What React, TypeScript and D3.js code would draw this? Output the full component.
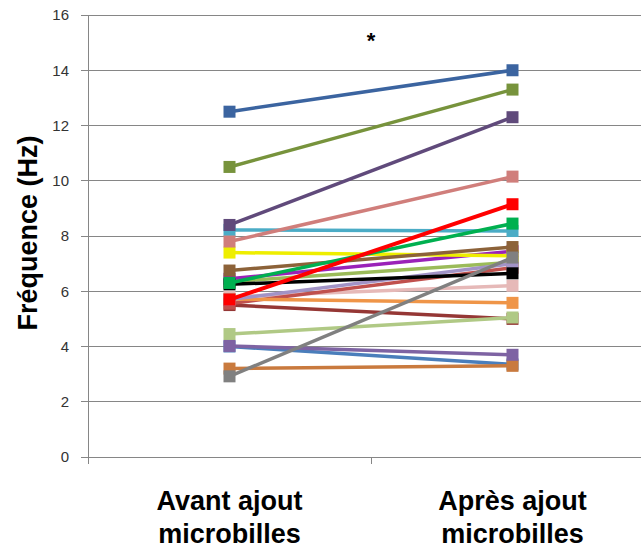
import React from "react";
import * as d3 from "d3";

const categories = ["Avant ajout microbilles", "Après ajout microbilles"];
const categoryLines = [
  ["Avant ajout", "microbilles"],
  ["Après ajout", "microbilles"],
];
const yTicks = [0, 2, 4, 6, 8, 10, 12, 14, 16];

// series drawn bottom to top
const seriesIds = [
  "s01", "s02", "s03", "s04", "s05", "s06", "s07", "s08", "s09", "s10", "s11",
  "s12", "s13", "s14", "s15", "s16", "s17", "s18", "s19", "s20", "s21", "s22",
];
const beforeValues = [
  4.0, 3.2, 5.5, 8.22, 5.8, 6.35, 5.55, 5.72, 5.7, 6.45, 7.4,
  6.25, 6.75, 4.45, 4.02, 2.92, 12.5, 10.5, 8.4, 7.8, 6.3, 5.7,
];
const afterValues = [
  3.35, 3.3, 5.0, 8.18, 6.2, 7.05, 6.85, 5.58, 7.0, 7.45, 7.28,
  6.65, 7.6, 5.05, 3.7, 7.22, 14.0, 13.3, 12.3, 10.15, 8.45, 9.15,
];
const seriesColors = [
  "#4A7EBB", "#C97A3E", "#953735", "#4BACC6", "#E6B9B8", "#9BBB59", "#C0504D", "#EF9548", "#A293C6", "#9A22B8", "#EEEE00",
  "#000000", "#8C6239", "#B0C985", "#7E63A3", "#808080", "#3B64A0", "#77933C", "#604A7B", "#D07E7B", "#00B050", "#FF0000",
];

const W = 641;
const H = 549;

export default function App() {
  const x = d3.scaleBand<string>().domain(categories).range([88, 654]).paddingInner(0).paddingOuter(0);
  const y = d3.scaleLinear().domain([0, 16]).range([457, 15]);
  const cx = (c: string) => (x(c) as number) + x.bandwidth() / 2;
  const line = d3.line<[number, number]>().x((d) => d[0]).y((d) => d[1]);
  const ms = 12;
  const gridColor = "#868686";
  const font = "'Liberation Sans', Arial, sans-serif";

  return (
    <svg width={W} height={H} style={{ position: "absolute", left: 0, top: 0, background: "#fff" }}>
      {yTicks.map((t) => (
        <line key={"g" + t} x1={81} x2={W} y1={y(t)} y2={y(t)} stroke={gridColor} strokeWidth={1} shapeRendering="crispEdges" />
      ))}
      <line x1={88} x2={88} y1={y(16)} y2={y(0) + 7} stroke={gridColor} strokeWidth={1} shapeRendering="crispEdges" />
      {[...categories.map((c) => x(c) as number), 654].map((v, i) => (
        <line key={"ct" + i} x1={v} x2={v} y1={y(0)} y2={y(0) + 7} stroke={gridColor} strokeWidth={1} shapeRendering="crispEdges" />
      ))}
      {yTicks.map((t) => (
        <text key={"yl" + t} x={69} y={y(t)} dy="0.35em" textAnchor="end" fontFamily={font} fontSize={15} fill="#333">
          {t}
        </text>
      ))}
      <text
        transform={`translate(37,233) rotate(-90)`}
        textAnchor="middle"
        fontFamily={font}
        fontWeight="bold"
        fontSize={27}
        fill="#000"
      >
        Fréquence (Hz)
      </text>
      {categories.map((c, i) => (
        <text key={"cl" + i} x={cx(c)} textAnchor="middle" fontFamily={font} fontWeight="bold" fontSize={27} fill="#000">
          <tspan x={cx(c)} y={510}>{categoryLines[i][0]}</tspan>
          <tspan x={cx(c)} y={543}>{categoryLines[i][1]}</tspan>
        </text>
      ))}
      <text x={371} y={48} textAnchor="middle" fontFamily={font} fontWeight="bold" fontSize={22} fill="#000">
        *
      </text>
      {seriesIds.map((id, i) => {
        const pts: [number, number][] = [
          [cx(categories[0]), y(beforeValues[i])],
          [cx(categories[1]), y(afterValues[i])],
        ];
        const col = seriesColors[i];
        return (
          <g key={id}>
            <path d={line(pts) || ""} fill="none" stroke={col} strokeWidth={col === "#FF0000" ? 4 : 3.5} />
            {pts.map((p, j) => (
              <rect key={j} x={p[0] - ms / 2} y={p[1] - ms / 2} width={ms} height={ms} fill={col} />
            ))}
          </g>
        );
      })}
    </svg>
  );
}
